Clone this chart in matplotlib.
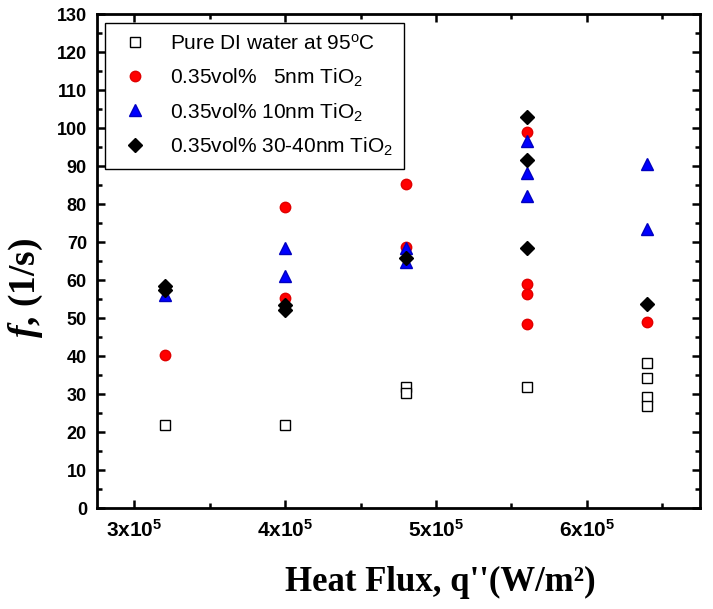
import numpy as np
import matplotlib
matplotlib.use('Agg')
import matplotlib.pyplot as plt
from matplotlib.ticker import MultipleLocator

plt.rcParams['font.family'] = ['Liberation Sans', 'DejaVu Sans']
plt.rcParams['mathtext.fontset'] = 'custom'
plt.rcParams['mathtext.rm'] = 'Liberation Sans'
plt.rcParams['mathtext.bf'] = 'Liberation Sans:bold'
plt.rcParams['mathtext.it'] = 'Liberation Serif:italic:bold'

# data
q_water = [3.2e5, 4.0e5, 4.8e5, 4.8e5, 5.6e5, 6.4e5, 6.4e5, 6.4e5, 6.4e5]
f_water = [21.8, 21.8, 31.9, 30.2, 31.8, 38.1, 34.3, 29.3, 26.8]

q_5nm = [3.2e5, 4.0e5, 4.0e5, 4.8e5, 4.8e5, 5.6e5, 5.6e5, 5.6e5, 5.6e5, 6.4e5]
f_5nm = [40.4, 79.3, 55.3, 85.3, 68.8, 98.9, 58.9, 56.3, 48.4, 48.9]

q_10nm = [3.2e5, 4.0e5, 4.0e5, 4.8e5, 4.8e5, 5.6e5, 5.6e5, 5.6e5, 6.4e5, 6.4e5]
f_10nm = [56.0, 68.3, 61.0, 68.4, 64.8, 96.6, 88.1, 82.1, 90.5, 73.3]

q_30nm = [3.2e5, 3.2e5, 4.0e5, 4.0e5, 4.8e5, 5.6e5, 5.6e5, 5.6e5, 6.4e5]
f_30nm = [58.5, 57.3, 53.4, 52.1, 65.8, 102.8, 91.6, 68.3, 53.6]

labels = [r'Pure DI water at 95$^\mathrm{o}$C',
          r'0.35vol%   5nm TiO$_2$',
          r'0.35vol% 10nm TiO$_2$',
          r'0.35vol% 30-40nm TiO$_2$']

x_ticks = [3e5, 4e5, 5e5, 6e5]
x_ticklabels = [r'$\mathbf{3x10^5}$', r'$\mathbf{4x10^5}$',
                r'$\mathbf{5x10^5}$', r'$\mathbf{6x10^5}$']

fig = plt.figure(figsize=(7.13, 6.09), dpi=100)
ax = fig.add_axes([0.1356, 0.1658, 0.8462, 0.8112])

ax.plot(q_water, f_water, 's', ms=6.5, mfc='white', mec='black', mew=1.0, label=labels[0])
ax.plot(q_5nm, f_5nm, 'o', ms=7.5, color='#ff0000', mec='#e00000', label=labels[1])
ax.plot(q_10nm, f_10nm, '^', ms=8.5, color='#0000ff', mec='#0000c0', label=labels[2])
ax.plot(q_30nm, f_30nm, 'D', ms=7, color='black', label=labels[3])

ax.set_xlim(2.75e5, 6.75e5)
ax.set_ylim(0, 130)
ax.set_xticks(x_ticks)
ax.set_xticklabels(x_ticklabels, fontsize=15)
ax.xaxis.set_minor_locator(MultipleLocator(0.5e5))
ax.yaxis.set_major_locator(MultipleLocator(10))
ax.yaxis.set_minor_locator(MultipleLocator(5))
for lab in ax.get_yticklabels():
    lab.set_fontweight('bold')
    lab.set_fontsize(13)

ax.tick_params(which='both', direction='in', top=True, right=True, width=1.8)
ax.tick_params(which='major', length=6)
ax.tick_params(which='minor', length=3.5)
ax.tick_params(axis='x', which='major', pad=8)
ax.tick_params(axis='y', which='major', pad=7)
for s in ax.spines.values():
    s.set_linewidth(2.0)

ax.set_xlabel("Heat Flux, q''(W/m²)", family='Liberation Serif', fontweight='bold', fontsize=25)
ax.xaxis.set_label_coords(0.569, -0.118)
ax.set_ylabel('$f$, (1/s)', family='Liberation Serif', fontweight='bold', fontsize=27)
ax.yaxis.set_label_coords(-0.085, 0.445)

leg = ax.legend(loc='upper left', bbox_to_anchor=(0.0138, 0.982), borderaxespad=0,
                fontsize=15, frameon=True, fancybox=False, edgecolor='black',
                framealpha=1, handlelength=1.8, handletextpad=0.75,
                labelspacing=0.6, borderpad=0.55, numpoints=1)
leg.get_frame().set_linewidth(1.0)

fig.savefig('out.png', dpi=100)
